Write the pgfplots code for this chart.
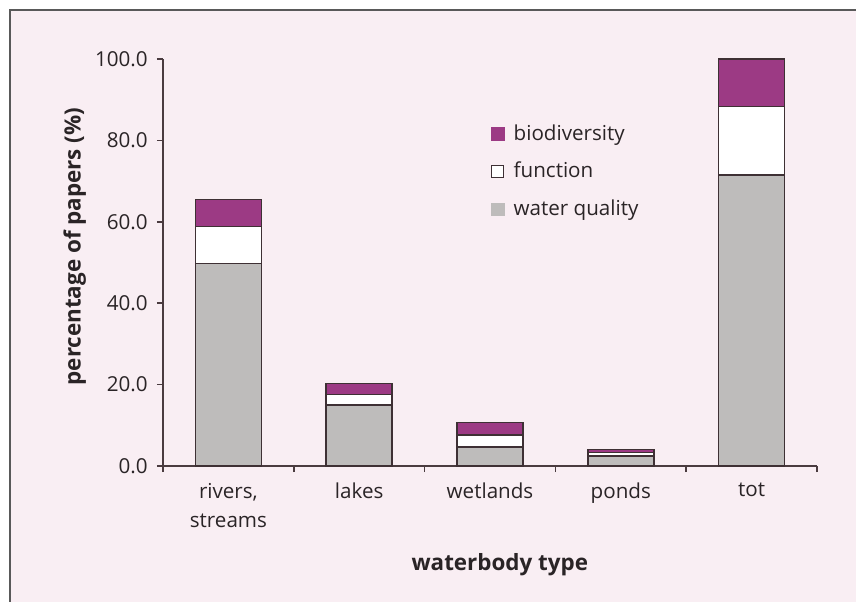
\documentclass[border=0pt]{standalone}
\usepackage{fontspec}
\setmainfont{Open Sans}
\usepackage{pgfplots}
\pgfplotsset{compat=1.18}
\definecolor{bgpink}{HTML}{F9EEF3}
\definecolor{biopurple}{HTML}{9C3A84}
\definecolor{wqgray}{HTML}{BEBCBB}
\definecolor{edge}{HTML}{3E3034}
\definecolor{axcol}{HTML}{4A3B3F}
\definecolor{txt}{HTML}{2A2426}
\begin{document}
\fontsize{10.3pt}{14.5pt}\selectfont
\begin{tikzpicture}
\useasboundingbox (-81.5pt,-67.5pt) rectangle (346.5pt,233pt);
\fill[bgpink] (-76.5pt,-75pt) rectangle (350pt,228pt);
\draw[gray!70!black, line width=0.6pt] (-76.5pt,-75pt) -- (-76.5pt,228pt) -- (350pt,228pt);
\begin{axis}[
  at={(0pt,0pt)}, anchor=south west,
  scale only axis, width=327pt, height=203.5pt,
  ybar stacked, bar width=33pt,
  xmin=-0.5, xmax=4.5, ymin=0, ymax=100,
  axis x line*=bottom, axis y line*=left,
  axis line style={axcol, line width=0.75pt},
  xtick={0,1,2,3,4},
  xticklabels={{rivers,\\streams},lakes,wetlands,ponds,tot},
  xticklabel style={align=center, text=txt, yshift=-2pt, font=\fontsize{10.3pt}{14.5pt}\selectfont},
  major x tick style={draw=none},
  minor xtick={-0.5,0.5,1.5,2.5,3.5,4.5},
  minor tick length=3pt,
  minor x tick style={axcol, line width=0.75pt},
  ytick={0,20,40,60,80,100},
  major tick length=3pt,
  tick align=outside,
  major y tick style={axcol, line width=0.75pt},
  yticklabel style={text=txt, font=\fontsize{10.3pt}{12pt}\selectfont, /pgf/number format/fixed, /pgf/number format/fixed zerofill, /pgf/number format/precision=1, xshift=-1pt},
  /pgf/number format/assume math mode=true,
  scaled y ticks=false,
  xlabel={waterbody type},
  xlabel style={at={(axis description cs:0.515,-0.243)}, anchor=center, text=txt, font=\fontsize{11.2pt}{13pt}\selectfont\bfseries},
  ylabel={percentage of papers (\%)},
  ylabel style={at={(axis description cs:-0.135,0.539)}, anchor=center, text=txt, font=\fontsize{11.2pt}{13pt}\selectfont\bfseries},
  legend style={at={(axis cs:1.96,86.0)}, anchor=north west, draw=none, fill=none,
    row sep=5.5pt, font=\fontsize{10.3pt}{12pt}\selectfont, text=txt,
    legend cell align=left},
  reverse legend,
  clip=false,
]
\addplot[fill=wqgray, draw=edge, line width=0.75pt,
  legend image code/.code={\fill[wqgray] (0pt,-3pt) rectangle (6pt,3pt); \path (8.5pt,0pt);}]
  coordinates {(0,49.8) (1,15.0) (2,4.7) (3,2.5) (4,71.5)};
\addlegendentry{water quality}
\addplot[fill=white, draw=edge, line width=0.75pt,
  legend image code/.code={\draw[edge, fill=white, line width=0.5pt] (0pt,-3pt) rectangle (6pt,3pt); \path (8.5pt,0pt);}]
  coordinates {(0,9.0) (1,2.6) (2,2.9) (3,0.8) (4,16.8)};
\addlegendentry{function}
\addplot[fill=biopurple, draw=edge, line width=0.75pt,
  legend image code/.code={\fill[biopurple] (0pt,-3pt) rectangle (6pt,3pt); \path (8.5pt,0pt);}]
  coordinates {(0,6.7) (1,2.7) (2,3.1) (3,0.8) (4,11.7)};
\addlegendentry{biodiversity}
\end{axis}
\end{tikzpicture}
\end{document}
